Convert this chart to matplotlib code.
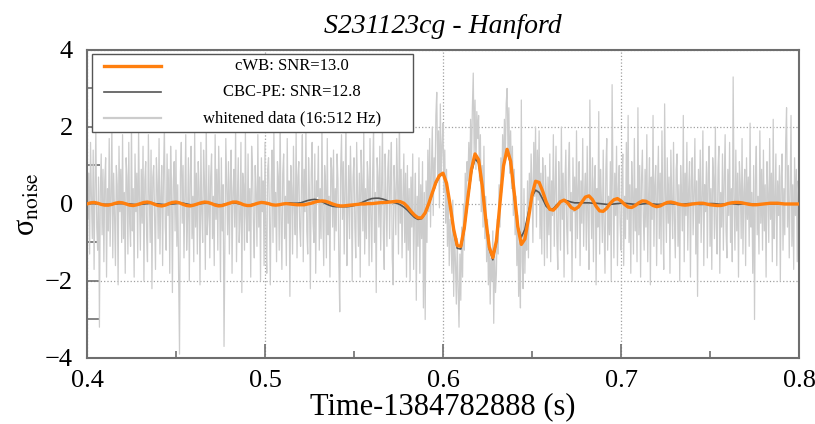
import numpy as np
import matplotlib as mpl
mpl.use("Agg")
import matplotlib.pyplot as plt
from matplotlib.patches import Rectangle
from matplotlib.ticker import MultipleLocator

plt.rcParams['font.family'] = ['Liberation Serif', 'DejaVu Serif']
plt.rcParams['mathtext.fontset'] = 'stix'

t_start = 0.4
t_stop = 0.8

# whitened strain, 0.5 ms samples from 0.400 to 0.800 s (one row = 10 ms)
data_white = [
    1.1, -0.4, 0.8, -1.3, 1.6, 0.2, -0.9, 1.4, -1.7, 0.5, 1.9, -0.6, -1.2, 0.7, -3.2, 0.3, 1.3, -0.8, 0.9, -1.5,
    0.6, 1.2, -1.9, 0.4, -0.7, 1.7, -1.1, 0.2, 2.0, -1.4, 0.8, -0.3, -1.6, 1.0, 0.5, -2.1, 1.5, -0.2, 0.9, -1.0,
    1.8, -0.9, 0.3, -1.8, 1.2, 0.7, -1.3, 1.6, -0.5, -1.1, 2.1, -0.7, 0.4, -1.9, 1.3, -0.2, 0.8, -1.4, 1.9, 0.1,
    -1.2, 0.9, -0.5, 1.5, -2.0, 0.6, 1.1, -0.8, -1.5, 1.8, 0.3, -1.0, 1.4, -2.2, 0.7, 1.0, -0.4, -1.7, 1.2, 0.5,
    -0.9, 1.7, -1.3, 0.2, 1.0, -1.6, 0.8, 2.0, -0.6, -1.2, 1.3, -0.3, 0.9, -1.8, 1.5, 0.4, -2.3, 0.6, 1.1, -0.7,
    1.4, -1.1, 0.5, -1.9, -3.9, 0.8, 1.6, -0.5, 1.0, -1.4, 0.3, 1.8, -1.2, -0.4, 1.2, -2.0, 0.7, 1.5, -0.9, 0.2,
    -1.5, 1.9, -0.6, 0.8, -1.3, 1.1, 0.4, -2.1, 1.6, -0.2, -1.0, 1.4, 0.6, -1.7, 2.2, -0.8, -0.3, 1.0, -1.4, 0.7,
    1.3, -0.9, 0.2, -1.6, 1.8, -0.4, 0.9, -1.2, 1.5, 0.3, -2.0, 1.2, -0.7, 0.5, -3.7, -1.1, 1.7, 0.4, -0.8, 1.1,
    -1.3, 0.6, 1.4, -1.8, 0.3, 0.9, -0.6, 2.0, -1.5, 0.2, 1.2, -1.0, -0.4, 1.6, -2.3, 0.8, 0.5, -1.2, 1.9, -0.3,
    -1.0, 1.3, -0.7, 0.4, -1.9, 1.5, 0.9, -0.5, -1.4, 1.0, 0.3, -1.1, 1.8, -0.6, 0.7, -2.0, 1.2, -0.2, 0.6, -1.6,
    1.6, -0.8, -1.8, 0.9, 1.2, -0.3, -2.1, 0.5, 1.4, -1.0, 1.9, -0.6, 0.3, -1.5, 1.1, 0.7, -1.2, 2.3, -0.4, -1.7,
    0.8, 1.3, -0.9, 0.2, -1.6, 1.7, -0.5, 0.6, -2.4, 1.0, 0.4, -1.3, 1.5, -0.1, -0.8, 1.9, -1.4, 0.7, 1.1, -0.6,
    -1.1, 0.5, 1.8, -1.5, 0.9, -0.2, 2.0, -0.7, -1.3, 1.2, 0.3, -2.2, 0.8, 1.6, -0.5, -1.0, 1.3, -1.8, 0.6, 0.2,
    1.5, -1.2, 0.4, -0.9, 2.1, -0.3, -1.6, 1.0, 0.6, -1.4, 1.7, -0.8, 0.2, -1.9, 1.2, 0.9, -0.6, 1.4, -1.2, 0.4,
    -0.7, 1.3, 0.6, -1.5, -2.8, 0.9, 1.8, -0.4, 1.1, -1.3, 0.5, 2.2, -1.6, -0.2, 1.0, -0.9, 1.5, 0.3, -2.0, 0.7,
    1.2, -0.6, -1.4, 1.6, 0.2, -1.1, 0.8, -1.9, 1.4, 0.5, -0.7, 1.9, -1.3, 0.4, -0.9, 1.1, 0.6, -1.6, 1.7, -0.3,
    -1.5, 0.8, 2.0, -1.0, 0.3, -2.3, 1.2, 0.7, -0.6, 1.5, -1.2, 0.4, 2.0, -0.8, -1.7, 1.3, 0.2, -1.1, 0.9, 1.4,
    -0.9, 0.6, 1.6, -1.4, -2.1, 1.0, 0.3, -0.8, 1.7, 0.5, -1.3, 2.4, -0.5, 0.9, -1.4, 0.2, 1.3, -1.0, 0.8, -1.9,
    1.0, -1.2, 0.4, -2.0, 0.7, -0.6, 1.3, -1.7, -0.3, 0.8, -2.5, 0.2, -1.1, 1.2, -1.8, 0.5, -0.9, 1.1, -2.7, 0.3,
    -3.0, 0.6, -1.0, 1.4, -0.2, 1.7, -0.6, 0.9, 2.0, -0.3, 1.2, 0.4, 2.3, 2.9, 0.7, 1.9, -0.1, 2.6, 0.8, 1.5,
    2.1, 0.3, 1.4, -0.5, 0.9, -1.1, 0.2, -1.6, -0.4, -0.9, -1.8, 0.1, -2.4, -0.7, -1.5, -2.6, -0.9, -2.2, -3.2, -1.3,
    -2.5, -0.6, -1.9, 0.0, -1.2, 0.8, -0.3, 1.1, 0.6, 1.6, 0.4, 2.2, 1.0, 2.5, 3.4, 1.3, 2.7, 0.9, 2.4, 1.7,
    2.3, 0.6, 1.8, -0.2, 1.0, -0.6, 1.5, -0.9, 0.2, -1.5, -0.4, -2.1, -0.8, -2.6, -1.4, -2.0, -0.7, -3.1, -1.1, -2.3,
    -1.8, -0.4, -1.3, 0.5, -0.6, 1.2, 0.3, 1.8, 0.7, 2.2, 1.1, 2.6, 3.0, 1.4, 2.5, 0.8, 1.9, 0.4, 1.5, -0.3,
    0.9, -0.8, 0.2, -1.6, -0.3, -2.4, -1.0, -2.7, 2.7, -1.5, -2.2, 0.4, -1.8, -0.5, -1.2, 0.6, -1.4, 0.8, -0.2, 1.3,
    0.5, -1.0, 1.6, 0.2, 2.0, -0.6, 1.4, 0.1, 1.9, -0.9, 0.8, -1.3, 1.2, 0.4, -1.6, 1.0, 0.3, -1.4, 0.7, -0.8,
    1.3, -1.5, 0.6, -0.3, 1.8, -1.1, 0.4, 1.5, -0.9, -1.7, 1.1, 0.2, -1.2, 2.0, -0.4, 0.8, -1.9, 0.5, 1.4, -0.6,
    -1.3, 0.9, 1.6, -0.7, 0.3, -2.0, 1.2, -0.2, 0.7, -1.4, 1.9, -0.9, 0.4, 1.1, -1.6, 0.6, -0.5, 1.7, -1.1, 0.2,
    0.8, -1.2, 1.5, -0.4, -1.7, 2.7, 0.3, -0.9, 1.2, -1.5, 0.6, 1.0, -2.1, 0.4, -0.6, 2.4, -1.3, 0.9, 0.1, -1.0,
    1.4, -0.6, -1.8, 0.9, 1.7, -1.2, 0.2, -0.8, 1.1, -2.0, 3.1, 0.5, -1.4, 0.8, -0.3, 1.5, -1.6, 0.4, 1.0, -0.5,
    -1.2, 0.7, 1.3, -1.6, 0.2, -0.9, 1.6, -0.4, 2.3, -1.0, 0.5, -1.8, 1.1, 0.3, -1.3, 1.7, -0.7, 0.4, -1.5, 2.5,
    -0.8, 1.0, -1.9, 0.6, 1.4, -0.3, -1.2, 0.9, -0.6, 1.8, -1.5, 0.2, 1.2, -2.1, 0.7, -0.4, 2.3, -1.1, 0.5, 1.0,
    -1.6, 0.4, 1.5, -0.9, 0.8, -1.3, 1.9, -0.2, -1.7, 2.6, 0.3, -1.0, 1.2, -0.5, 0.7, -1.8, 1.4, 0.1, -0.9, 1.6,
    -0.4, -1.4, 0.9, 1.3, -1.1, 0.5, -2.0, 1.0, 0.2, -0.7, 2.3, -1.5, 0.8, -0.3, 1.6, -1.2, 0.4, 1.1, -1.9, 0.6,
    1.2, -0.8, 0.3, 1.7, -1.3, 0.6, -2.4, 0.9, -0.5, 1.4, -1.0, 0.2, 1.9, -1.6, 0.5, -0.2, 1.1, -1.4, 0.8, 1.5,
    -1.1, 0.4, -1.7, 1.2, 0.7, -0.9, 2.0, -0.5, -1.3, 0.9, 1.5, -1.8, 0.3, -0.6, 1.3, -1.2, 0.6, 1.8, -0.7, -1.4,
    0.9, -0.3, 1.6, -1.0, 0.4, -1.5, 3.3, 0.2, -1.2, 1.4, -0.7, 0.8, -1.9, 1.1, 0.5, -0.9, 1.7, -1.3, 0.3, 0.9,
    -1.6, 1.2, -0.4, 0.7, -1.1, 2.1, -0.6, 0.3, -1.8, 1.0, -3.0, 0.6, 1.5, -0.8, 0.2, -1.3, 1.9, -0.5, 0.9, -1.2,
    1.4, -0.7, 0.5, -1.9, 1.1, 0.3, -1.0, 1.7, -0.4, 0.8, -1.5, 2.2, -0.9, 0.1, 1.3, -1.6, 0.6, -0.3, 1.0, -2.0,
    0.7, 1.3, -1.2, 0.4, -0.8, 1.6, 2.5, -0.6, 1.0, -1.4, 0.3, 2.3, -1.1, 0.5, -1.7, 1.2, -0.3, 0.9, -1.5, 0.6,
    0.2,
]

# reconstructed waveforms, 2 ms samples from 0.400 to 0.800 s
wave_cwb = [
    0.00, 0.03, 0.04, 0.02, -0.01, -0.03, -0.03, -0.01, 0.02, 0.04,
    0.03, 0.00, -0.03, -0.04, -0.02, 0.01, 0.04, 0.05, 0.03, -0.01,
    -0.04, -0.05, -0.03, 0.01, 0.04, 0.05, 0.03, -0.01, -0.04, -0.05,
    -0.03, 0.00, 0.03, 0.05, 0.04, 0.01, -0.03, -0.05, -0.04, -0.01,
    0.02, 0.05, 0.05, 0.02, -0.02, -0.04, -0.04, -0.01, 0.02, 0.04,
    0.03, 0.01, -0.02, -0.03, -0.02, 0.00, 0.01, 0.00, -0.01, -0.02,
    -0.02, -0.02, 0.00, 0.02, 0.05, 0.07, 0.08, 0.07, 0.04, 0.00,
    -0.03, -0.05, -0.05, -0.04, -0.03, -0.02, -0.01, 0.00, 0.00, 0.01,
    0.01, 0.02, 0.03, 0.04, 0.04, 0.05, 0.06, 0.07, 0.06, 0.02,
    -0.07, -0.19, -0.29, -0.36, -0.36, -0.23, 0.01, 0.29, 0.56, 0.74,
    0.80, 0.54, -0.03, -0.66, -1.08, -1.10, -0.61, 0.17, 0.91, 1.30,
    1.15, 0.49, -0.39, -1.12, -1.39, -0.96, 0.02, 0.99, 1.42, 1.11,
    0.30, -0.58, -1.05, -0.91, -0.38, 0.23, 0.59, 0.56, 0.33, 0.05,
    -0.14, -0.16, -0.06, 0.06, 0.10, 0.03, -0.09, -0.14, -0.08, 0.05,
    0.18, 0.21, 0.11, -0.06, -0.18, -0.19, -0.11, 0.02, 0.11, 0.14,
    0.08, -0.01, -0.08, -0.09, -0.04, 0.03, 0.08, 0.07, 0.02, -0.04,
    -0.07, -0.05, 0.00, 0.04, 0.05, 0.03, 0.00, -0.02, -0.03, -0.02,
    0.00, 0.01, 0.02, 0.02, 0.00, -0.02, -0.03, -0.04, -0.04, -0.02,
    0.01, 0.03, 0.04, 0.04, 0.03, 0.01, -0.01, -0.02, -0.02, -0.01,
    0.00, 0.01, 0.02, 0.02, 0.02, 0.01, 0.00, 0.00, 0.00, 0.00,
    0.00,
]

wave_cbc = [
    0.00, 0.01, 0.01, 0.01, 0.00, -0.01, -0.01, -0.01, 0.00, 0.01,
    0.01, 0.01, 0.00, -0.01, -0.02, -0.01, 0.00, 0.01, 0.02, 0.01,
    0.00, -0.01, -0.02, -0.01, 0.00, 0.01, 0.02, 0.02, 0.00, -0.02,
    -0.02, -0.01, 0.01, 0.02, 0.02, 0.01, -0.01, -0.02, -0.02, 0.00,
    0.02, 0.03, 0.02, 0.00, -0.02, -0.03, -0.02, 0.00, 0.02, 0.03,
    0.02, 0.00, -0.02, -0.03, -0.02, 0.00, 0.02, 0.03, 0.02, 0.02,
    0.03, 0.06, 0.09, 0.11, 0.12, 0.10, 0.06, 0.01, -0.03, -0.06,
    -0.07, -0.07, -0.07, -0.07, -0.06, -0.04, -0.01, 0.03, 0.07, 0.11,
    0.14, 0.15, 0.15, 0.13, 0.10, 0.06, 0.04, 0.02, -0.02, -0.08,
    -0.16, -0.26, -0.35, -0.40, -0.38, -0.25, -0.01, 0.27, 0.53, 0.72,
    0.78, 0.55, -0.03, -0.70, -1.15, -1.17, -0.66, 0.12, 0.82, 1.18,
    1.06, 0.45, -0.41, -1.17, -1.45, -0.99, 0.02, 0.98, 1.40, 1.04,
    0.20, -0.60, -0.86, -0.66, -0.22, 0.19, 0.36, 0.30, 0.13, -0.06,
    -0.14, -0.12, -0.02, 0.07, 0.10, 0.08, 0.05, 0.03, 0.03, 0.03,
    0.03, 0.03, 0.02, 0.02, 0.01, 0.00, -0.01, -0.01, 0.00, 0.01,
    0.02, 0.02, 0.01, 0.00, -0.01, -0.01, 0.00, 0.01, 0.01, 0.00,
    -0.01, -0.01, 0.00, 0.01, 0.01, 0.00, -0.01, -0.01, 0.00, 0.01,
    0.01, 0.00, -0.01, -0.01, 0.00, 0.01, 0.01, 0.00, -0.01, 0.00,
    0.01, 0.01, 0.00, -0.01, 0.00, 0.01, 0.01, 0.00, 0.00, 0.00,
    0.00, 0.00, 0.00, 0.00, 0.00, 0.00, 0.00, 0.00, 0.00, 0.00,
    0.00,
]

labels = ['cWB: SNR=13.0', 'CBC-PE: SNR=12.8', 'whitened data (16:512 Hz)']
title = 'S231123cg - Hanford'
xlabel = 'Time-1384782888 (s)'

c_cwb = '#ff7f0e'
c_cbc = '#555555'
c_data = '#cccccc'
c_axis = '#6e6e6e'


def main():
    t_data = np.linspace(t_start, t_stop, len(data_white))
    t_wave = np.linspace(t_start, t_stop, len(wave_cwb))

    fig = plt.figure(figsize=(8.15, 4.24), dpi=100)
    ax = fig.add_axes([0.1067, 0.1557, 0.8737, 0.7264])

    ax.plot(t_data, data_white, color=c_data, lw=0.9, zorder=2)
    ax.plot(t_wave, wave_cbc, color=c_cbc, lw=1.2, zorder=3)
    ax.plot(t_wave, wave_cwb, color=c_cwb, lw=2.4, zorder=4)

    ax.set_xlim(t_start, t_stop)
    ax.set_ylim(-4, 4)
    ax.xaxis.set_major_locator(MultipleLocator(0.1))
    ax.xaxis.set_minor_locator(MultipleLocator(0.05))
    ax.yaxis.set_major_locator(MultipleLocator(2))
    ax.yaxis.set_minor_locator(MultipleLocator(1))
    ax.tick_params(which='both', direction='in', colors=c_axis,
                   labelcolor='black', labelsize=19, width=1.2)
    ax.tick_params(axis='x', which='major', length=10, pad=9)
    ax.tick_params(axis='x', which='minor', length=5)
    ax.tick_params(axis='y', which='both', length=9, pad=10)
    ax.grid(True, which='major', color='#a0a0a0', ls=':', lw=0.9)
    for sp in ax.spines.values():
        sp.set_color(c_axis)
        sp.set_linewidth(1.5)

    ax.set_title(title, fontsize=20, style='italic', pad=12)
    ax.set_xlabel(xlabel, fontsize=22, labelpad=0)
    ax.set_ylabel('σ$_{\\rm noise}$', fontsize=22, labelpad=2)

    # legend box drawn by hand so the labels are centred
    box = Rectangle((0.007, 0.734), 0.451, 0.253, transform=ax.transAxes,
                    facecolor='white', edgecolor='#555555', lw=1.0, zorder=6)
    ax.add_patch(box)
    rows = [0.948, 0.864, 0.779]
    styles = [(c_cwb, 2.4), (c_cbc, 1.2), (c_data, 1.6)]
    for y, (c, lw), lab in zip(rows, styles, labels):
        ax.plot([0.024, 0.104], [y, y], color=c, lw=lw, transform=ax.transAxes,
                zorder=7, clip_on=False)
        ax.text(0.288, y, lab, transform=ax.transAxes, ha='center', va='center',
                fontsize=12, zorder=7)

    fig.savefig('out.png', dpi=100)
    plt.close(fig)


if __name__ == '__main__':
    main()
